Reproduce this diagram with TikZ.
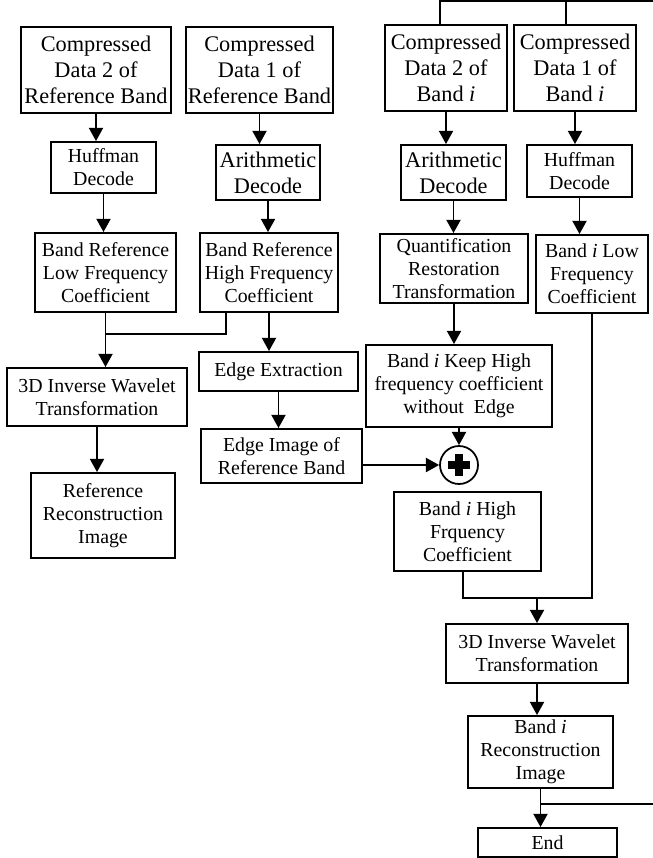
\documentclass[tikz,border=0pt]{standalone}
\usepackage{fontspec}
\setmainfont{Liberation Serif}
\usetikzlibrary{arrows.meta}
\newcommand{\bigtxt}{\fontsize{12.7}{14.8}\selectfont}
\newcommand{\smalltxt}{\fontsize{11.3}{13.1}\selectfont}
\tikzset{
	box/.style={draw, line width=1.1pt, align=center, inner sep=1pt, font=\smalltxt},
	big box/.style={box, font=\bigtxt},
	arr/.style={-{Triangle[width=8pt,length=7.5pt]}, line width=1pt},
	link/.style={line width=1pt}
}

\begin{document}
\begin{tikzpicture}[x=0.02cm, y=-0.02cm]
\useasboundingbox (0,0) rectangle (652,858);

%%reference band
\draw (96,70) node[big box, minimum width=3cm, minimum height=1.72cm] (ref data two) {Compressed\\Data 2 of\\Reference Band};
\draw (259.5,70) node[big box, minimum width=2.86cm, minimum height=1.72cm] (ref data one) {Compressed\\Data 1 of\\Reference Band};
\draw (103.5,167.5) node[box, minimum width=2.1cm, minimum height=1.02cm] (ref huffman) {Huffman\\Decode};
\draw (268,172.5) node[big box, minimum width=2.08cm, minimum height=1.1cm] (ref arith) {Arithmetic\\Decode};
\draw (105.5,272.5) node[box, minimum width=2.82cm, minimum height=1.58cm] (ref low) {Band Reference\\Low Frequency\\Coefficient};
\draw (269,272.5) node[box, minimum width=2.76cm, minimum height=1.58cm] (ref high) {Band Reference\\High Frequency\\Coefficient};
\draw (97,397) node[box, minimum width=3.6cm, minimum height=1.16cm] (ref wavelet) {3D Inverse Wavelet\\Transformation};
\draw (278.5,371.5) node[box, minimum width=3.18cm, minimum height=0.78cm] (edge extraction) {Edge Extraction};
\draw (281.5,456) node[box, minimum width=3.22cm, minimum height=1.08cm] (edge image) {Edge Image of\\Reference Band};
\draw (103,515.5) node[box, minimum width=2.88cm, minimum height=1.7cm] (ref recon) {Reference\\Reconstruction\\Image};

%%band i
\draw (446,68) node[big box, minimum width=2.44cm, minimum height=1.72cm] (band data two) {Compressed\\Data 2 of\\Band \textit{i}};
\draw (575,68) node[big box, minimum width=2.44cm, minimum height=1.72cm] (band data one) {Compressed\\Data 1 of\\Band \textit{i}};
\draw (453.5,172.5) node[big box, minimum width=2.1cm, minimum height=1.1cm] (band arith) {Arithmetic\\Decode};
\draw (579.5,171) node[box, minimum width=2.1cm, minimum height=1.04cm] (band huffman) {Huffman\\Decode};
\draw (454,268.5) node[box, minimum width=2.96cm, minimum height=1.38cm] (quant) {Quantification\\Restoration\\Transformation};
\draw (592,274) node[box, minimum width=2.24cm, minimum height=1.56cm] (band low) {Band \textit{i} Low\\Frequency\\Coefficient};
\draw (459,386) node[box, minimum width=3.72cm, minimum height=1.64cm] (band keep) {Band \textit{i} Keep High\\frequency coefficient\\without\ \ Edge};
\draw (459,465) node[circle, draw, line width=1pt, minimum size=0.76cm, inner sep=0pt] (plus) {};
\draw[line width=4pt] ([xshift=-6.2pt]plus.center) -- ([xshift=6.2pt]plus.center)
	([yshift=-6.2pt]plus.center) -- ([yshift=6.2pt]plus.center);
\draw (467.5,531.5) node[box, minimum width=2.94cm, minimum height=1.58cm] (band high) {Band \textit{i} High\\Frquency\\Coefficient};
\draw (537,653.5) node[box, minimum width=3.64cm, minimum height=1.18cm] (band wavelet) {3D Inverse Wavelet\\Transformation};
\draw (540.5,752) node[box, minimum width=2.9cm, minimum height=1.44cm] (band recon) {Band \textit{i}\\Reconstruction\\Image};
\draw (547.5,842.5) node[box, minimum width=2.78cm, minimum height=0.58cm] (end) {End};

%%junctions
\coordinate (ref join) at ([yshift=-0.42cm]ref low.south);
\coordinate (band join) at ([yshift=0.5cm]band wavelet.north);
\coordinate (loop join) at ([yshift=-0.3cm]band recon.south);
\coordinate (loop corner) at (655,1);

%%reference connectors
\draw[arr] (ref data two.south) -- (ref data two.south |- ref huffman.north);
\draw[arr] (ref data one.south) -- (ref data one.south |- ref arith.north);
\draw[arr] (ref huffman.south) -- (ref huffman.south |- ref low.north);
\draw[arr] (ref arith.south) -- (ref arith.south |- ref high.north);
\draw[link] (ref low.south) -- (ref join);
\draw[link] ([xshift=-0.86cm]ref high.south) |- (ref join);
\draw[arr] (ref join) -- (ref join |- ref wavelet.north);
\draw[arr] (ref wavelet.south) -- (ref wavelet.south |- ref recon.north);
\draw[arr] (ref high.south) -- (ref high.south |- edge extraction.north);
\draw[arr] (edge extraction.south) -- (edge extraction.south |- edge image.north);
\draw[arr] (edge image.east |- plus) -- (plus.west);

%%band i connectors
\draw[link] (loop join) -| (loop corner) -| ([xshift=-0.12cm]band data two.north);
\draw[link] ([xshift=-0.18cm]band data one.north |- loop corner) -- ([xshift=-0.18cm]band data one.north);
\draw[arr] (band data two.south) -- (band data two.south |- band arith.north);
\draw[arr] (band data one.south) -- (band data one.south |- band huffman.north);
\draw[arr] (band arith.south) -- (band arith.south |- quant.north);
\draw[arr] (band huffman.south) -- (band huffman.south |- band low.north);
\draw[arr] (quant.south) -- (quant.south |- band keep.north);
\draw[arr] (band keep.south) -- (plus.north);
\draw[link] ([xshift=-0.09cm]band high.south) |- (band join) -| (band low.south);
\draw[arr] (band join) -- (band wavelet.north);
\draw[arr] (band wavelet.south) -- (band wavelet.south |- band recon.north);
\draw[arr] (band recon.south) -- (band recon.south |- end.north);
\end{tikzpicture}
\end{document}
